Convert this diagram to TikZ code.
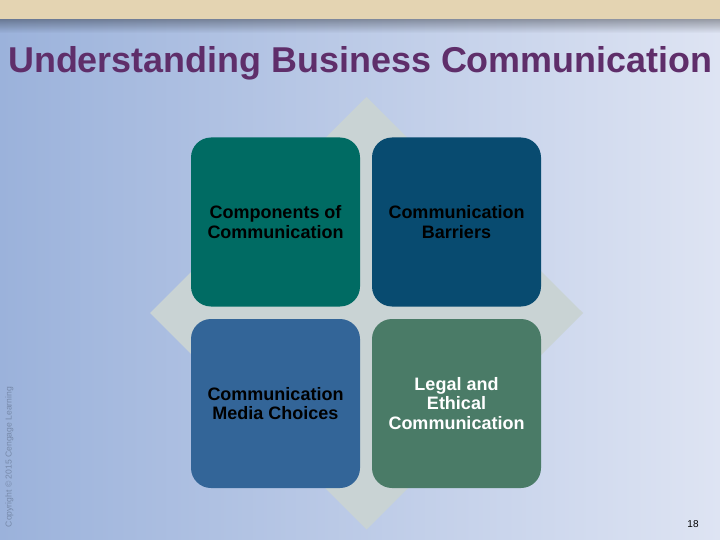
\documentclass[tikz,border=0pt]{standalone}
\usepackage{fontspec}
\setmainfont{Liberation Sans}
\definecolor{bgleft}{HTML}{9BB2DB}
\definecolor{bgright}{HTML}{DEE4F3}
\definecolor{barcol}{HTML}{E4D4B2}
\definecolor{titlecol}{HTML}{5F2E6A}
\definecolor{diacol}{HTML}{C9D3D4}
\definecolor{tlcol}{HTML}{006B63}
\definecolor{trcol}{HTML}{084B70}
\definecolor{blcol}{HTML}{336598}
\definecolor{brcol}{HTML}{4A7B67}
\definecolor{copycol}{HTML}{7689AA}
\tikzset{
  tile/.style={rounded corners=20pt, minimum width=169pt, minimum height=169pt, inner sep=0pt,
    align=center, font=\fontsize{18}{19.5}\selectfont\bfseries, text=black},
}
\begin{document}
\begin{tikzpicture}[x=1pt,y=-1pt]
\useasboundingbox (0,0) rectangle (720,540);
\shade[left color=bgleft, right color=bgright] (0,0) rectangle (720,540);
% top bar shadow
\foreach \i in {0,...,13} {
  \fill[black, opacity={0.32*(1-\i/14)}] (0,19+\i) rectangle (720,20+\i);
}
\fill[barcol] (0,0) rectangle (720,19);
% title
\node[anchor=base west, inner sep=0pt, text=titlecol, font=\fontsize{35.9}{40}\selectfont\bfseries] (title) at (8,73) {Understanding Business Communication};
% diamond
\fill[diacol] (366.5,97) -- (583,313) -- (366.5,529.5) -- (150,313) -- cycle;
% tiles
\node[tile, fill=tlcol] (tl) at (275.5,222) {Components of\\Communication};
\node[tile, fill=trcol] (tr) at (456.5,222) {Communication\\Barriers};
\node[tile, fill=blcol] (bl) at (275.5,403.5) {Communication\\Media Choices};
\node[tile, fill=brcol, text=white] (br) at (456.5,403.5) {Legal and\\Ethical\\Communication};
% copyright
\node[rotate=90, inner sep=0pt, text=copycol, font=\fontsize{8.6}{10}\selectfont] (copy) at (9.5,457) {Copyright © 2015 Cengage Learning};
% page number
\node[inner sep=0pt, font=\fontsize{10}{12}\selectfont] (page) at (693,524) {18};
\end{tikzpicture}
\end{document}
